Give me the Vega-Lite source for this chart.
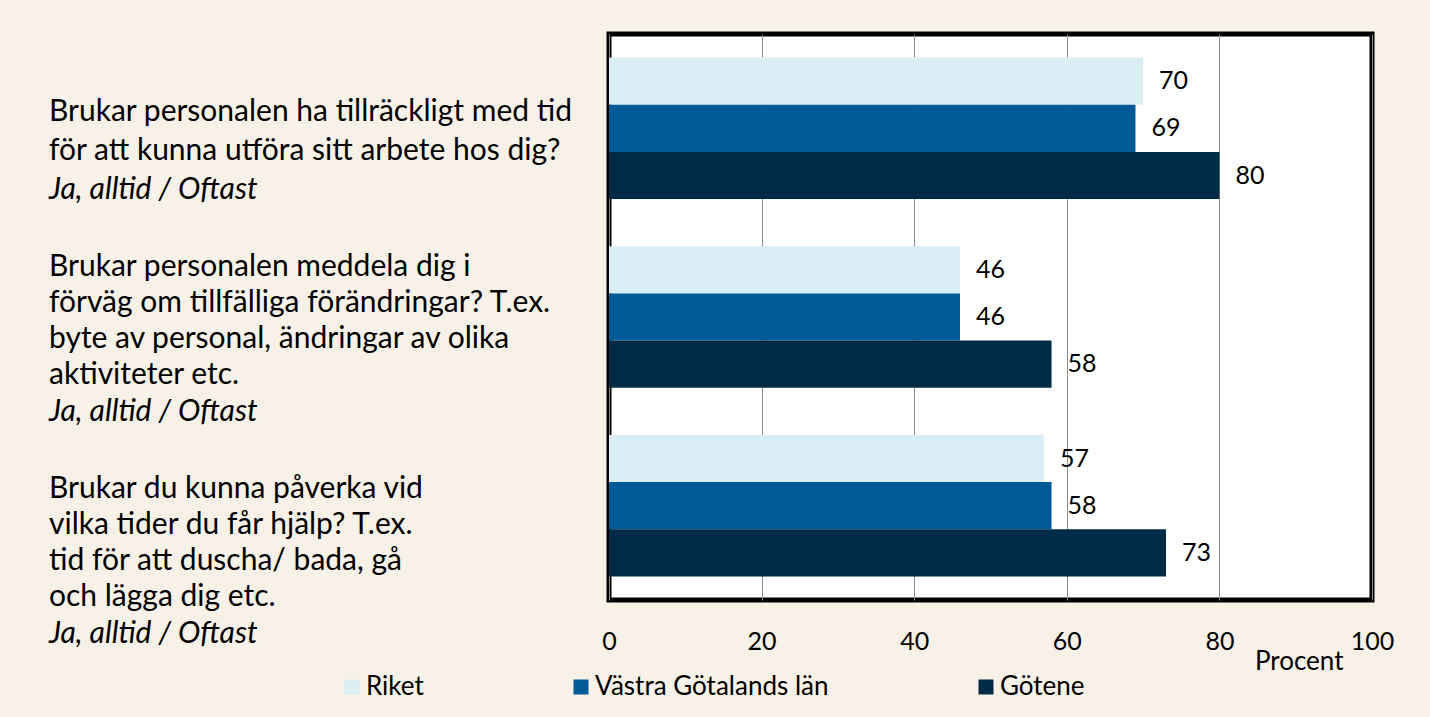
{
  "$schema": "https://vega.github.io/schema/vega-lite/v6.json",
  "background": "#f8f1e8",
  "padding": {"left": 49, "top": 31, "right": 40, "bottom": 22},
  "bounds": "flush",
  "spacing": 20,
  "config": {
    "font": "Lato",
    "view": {"stroke": null},
    "text": {"color": "black"}
  },
  "datasets": {
    "questions": [
      {"question": "Brukar personalen ha tillräckligt med tid för att kunna utföra sitt arbete hos dig?", "lines": ["Brukar personalen ha tillräckligt med tid", "för att kunna utföra sitt arbete hos dig?"], "answer": "Ja, alltid / Oftast"},
      {"question": "Brukar personalen meddela dig i förväg om tillfälliga förändringar? T.ex. byte av personal, ändringar av olika aktiviteter etc.", "lines": ["Brukar personalen meddela dig i", "förväg om tillfälliga förändringar? T.ex.", "byte av personal, ändringar av olika", "aktiviteter etc."], "answer": "Ja, alltid / Oftast"},
      {"question": "Brukar du kunna påverka vid vilka tider du får hjälp? T.ex. tid för att duscha/ bada, gå och lägga dig etc.", "lines": ["Brukar du kunna påverka vid", "vilka tider du får hjälp? T.ex.", "tid för att duscha/ bada, gå", "och lägga dig etc."], "answer": "Ja, alltid / Oftast"}
    ],
    "bars": [
      {"question": "Brukar personalen ha tillräckligt med tid för att kunna utföra sitt arbete hos dig?", "series": "Riket", "value": 70},
      {"question": "Brukar personalen ha tillräckligt med tid för att kunna utföra sitt arbete hos dig?", "series": "Västra Götalands län", "value": 69},
      {"question": "Brukar personalen ha tillräckligt med tid för att kunna utföra sitt arbete hos dig?", "series": "Götene", "value": 80},
      {"question": "Brukar personalen meddela dig i förväg om tillfälliga förändringar? T.ex. byte av personal, ändringar av olika aktiviteter etc.", "series": "Riket", "value": 46},
      {"question": "Brukar personalen meddela dig i förväg om tillfälliga förändringar? T.ex. byte av personal, ändringar av olika aktiviteter etc.", "series": "Västra Götalands län", "value": 46},
      {"question": "Brukar personalen meddela dig i förväg om tillfälliga förändringar? T.ex. byte av personal, ändringar av olika aktiviteter etc.", "series": "Götene", "value": 58},
      {"question": "Brukar du kunna påverka vid vilka tider du får hjälp? T.ex. tid för att duscha/ bada, gå och lägga dig etc.", "series": "Riket", "value": 57},
      {"question": "Brukar du kunna påverka vid vilka tider du får hjälp? T.ex. tid för att duscha/ bada, gå och lägga dig etc.", "series": "Västra Götalands län", "value": 58},
      {"question": "Brukar du kunna påverka vid vilka tider du får hjälp? T.ex. tid för att duscha/ bada, gå och lägga dig etc.", "series": "Götene", "value": 73}
    ]
  },
  "hconcat": [
    {
      "width": 540,
      "height": 566,
      "data": {"name": "questions"},
      "encoding": {
        "x": {"datum": 0, "type": "quantitative", "scale": {"domain": [0, 1]}, "axis": null},
        "y": {"field": "question", "type": "nominal", "sort": null, "scale": {"type": "point", "padding": 0, "range": [156, 600]}, "axis": null}
      },
      "layer": [
        {
          "transform": [{"filter": "length(datum.lines) == 2"}],
          "mark": {"type": "text", "align": "left", "baseline": "middle", "fontSize": 30, "lineHeight": 39, "dy": -78},
          "encoding": {"text": {"field": "lines"}}
        },
        {
          "transform": [{"filter": "length(datum.lines) == 4"}],
          "mark": {"type": "text", "align": "left", "baseline": "middle", "fontSize": 30, "lineHeight": 36, "dy": -145},
          "encoding": {"text": {"field": "lines"}}
        },
        {"mark": {"type": "text", "align": "left", "baseline": "middle", "fontSize": 30, "fontStyle": "italic"}, "encoding": {"text": {"field": "answer"}}}
      ]
    },
    {
      "width": 763,
      "height": 566,
      "view": {"fill": "white", "stroke": "black", "strokeWidth": 5},
      "data": {"name": "bars"},
      "encoding": {
        "y": {"field": "question", "type": "nominal", "sort": null, "axis": null, "scale": {"paddingInner": 0.25, "paddingOuter": 0.125}},
        "yOffset": {"field": "series", "type": "nominal", "sort": ["Riket", "Västra Götalands län", "Götene"], "scale": {"paddingInner": 0, "paddingOuter": 0}},
        "x": {
          "field": "value", "type": "quantitative",
          "scale": {"domain": [0, 100]},
          "axis": {
            "values": [0, 20, 40, 60, 80, 100],
            "grid": true, "gridColor": "#8c8c8c", "gridWidth": 1,
            "ticks": false, "domain": false,
            "labelFontSize": 25, "labelPadding": 29, "labelColor": "black", "labelFlush": false,
            "title": "Procent", "titleFontSize": 26, "titleFontWeight": "normal", "titleColor": "black",
            "titleX": 734, "titleY": 61, "titleAlign": "right", "titleBaseline": "middle"
          }
        }
      },
      "layer": [
        {
          "mark": {"type": "bar"},
          "encoding": {
            "color": {
              "field": "series", "type": "nominal",
              "scale": {"domain": ["Riket", "Västra Götalands län", "Götene"], "range": ["#d9eef5", "#005a96", "#002b47"]},
              "legend": {
                "title": null, "orient": "none", "legendX": 290, "legendY": 640,
                "direction": "horizontal", "symbolType": "square", "symbolSize": 225,
                "symbolStrokeWidth": 0, "labelFontSize": 26, "labelColor": "black",
                "columnPadding": 144, "labelOffset": 1, "labelLimit": 400
              }
            }
          }
        },
        {"mark": {"type": "text", "align": "left", "baseline": "middle", "dx": 16, "fontSize": 25}, "encoding": {"text": {"field": "value", "type": "quantitative"}}}
      ]
    }
  ]
}
